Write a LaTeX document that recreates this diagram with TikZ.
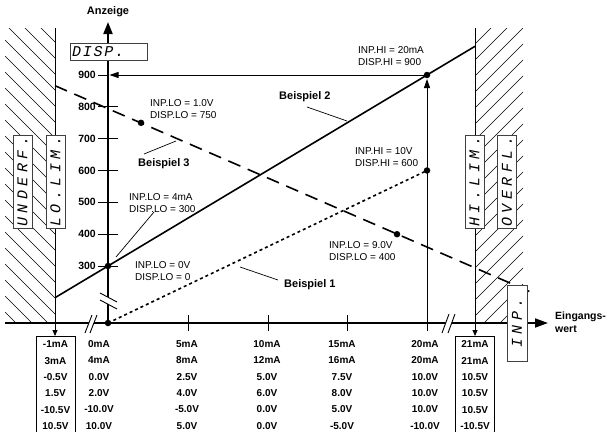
\documentclass[tikz,border=0pt]{standalone}
\usepackage{fontspec}
\setmainfont{Liberation Sans}
\newfontfamily\lcdh[LetterSpace=12]{Liberation Mono}
\newfontfamily\lcdv[LetterSpace=30]{Liberation Mono}
\usetikzlibrary{arrows.meta}
\begin{document}
\begin{tikzpicture}[x=1pt,y=-1pt,
  axis/.style={line width=1.8pt},
  lim/.style={line width=0.9pt},
  hatch/.style={line width=0.6pt},
  lead/.style={line width=0.7pt},
  brk/.style={line width=0.9pt},
  bspA/.style={line width=1.6pt},
  bspB/.style={line width=1.6pt, dash pattern=on 13pt off 8pt},
  bspC/.style={line width=1.6pt, dash pattern=on 3pt off 3pt},
  dot/.style={circle, fill, inner sep=0pt, minimum size=6.5pt},
  lbl/.style={font=\fontsize{10}{12}\selectfont, align=left, inner sep=0pt, anchor=west},
  bsp/.style={font=\bfseries\fontsize{11}{13}\selectfont, inner sep=0pt, anchor=west},
  ylab/.style={font=\bfseries\fontsize{10.5}{12}\selectfont, inner sep=0pt, anchor=east},
  col/.style={font=\bfseries\fontsize{10}{16.3}\selectfont, align=center, inner sep=0pt, anchor=north},
  colbox/.style={col, draw, line width=0.9pt, minimum width=39pt, inner ysep=4.5pt},
  lcdbox/.style={draw=black!75, fill=white, line width=0.7pt, inner sep=0pt},
  lcdvert/.style={lcdbox, rotate=90, minimum width=93pt, minimum height=19pt, font=\lcdv\itshape\fontsize{15}{15}\selectfont},
  tip/.style={-{Triangle[length=9pt,width=6pt]}},
  smalltip/.style={-{Triangle[length=6pt,width=5pt]}}
]
\useasboundingbox (0,0) rectangle (609,431);

% hatched limit regions
\begin{scope}
  \clip (5,28) rectangle (55,323);
  \foreach \c in {-40,-24,...,330} \draw[hatch] (5,\c) -- (55,\c+50);
\end{scope}
\begin{scope}
  \clip (475,28) rectangle (523,323);
  \foreach \c in {28,44,...,380} \draw[hatch] (475,\c) -- (523,\c-48);
\end{scope}

% key coordinates
\coordinate (O) at (108,323);
\coordinate (ytop) at (108,22);
\coordinate (xl) at (5,323);
\coordinate (xr) at (548,323);
\coordinate (limLt) at (55,28);
\coordinate (limLb) at (55,336);
\coordinate (limRt) at (475,28);
\coordinate (limRb) at (475,336);
\coordinate (y900) at (109.5,75);
\coordinate (x20) at (427,323);
\coordinate (x20up) at (427,79);
\coordinate (b2s) at (55,297.7);
\coordinate (b2e) at (475,46.3);
\coordinate (b3s) at (55,85.7);
\coordinate (b3e) at (530,291.7);

% limit lines
\draw[lim, smalltip] (limLt) -- (limLb);
\draw[lim, smalltip] (limRt) -- (limRb);

% LCD boxes in limit regions
\node[lcdvert] (underf) at (22.5,181.5) {UNDERF.};
\node[lcdvert] (lolim) at (55.5,181.5) {LO.LIM.};
\node[lcdvert] (hilim) at (474.5,181.5) {HI.LIM.};
\node[lcdvert] (overfl) at (507,181.5) {OVERFL.};

% axes
\draw[axis, -{Triangle[length=13pt,width=9pt]}] (xl) -- (xr);
\draw[axis, -{Triangle[length=12pt,width=9pt]}] (O) -- (ytop);

% x axis breaks
\fill[white] (85,333) -- (92,315) -- (97,315) -- (90,333) -- cycle;
\draw[brk] (85,333) -- (92,315) (90,333) -- (97,315);
\fill[white] (442,333) -- (449,314) -- (455,314) -- (448,333) -- cycle;
\draw[brk] (442,333) -- (449,314) (448,333) -- (455,314);
% y axis break
\fill[white] (100,293) -- (117,302) -- (117,309) -- (100,300) -- cycle;
\draw[brk] (100,293) -- (117,302) (100,300) -- (117,309);

% y ticks and labels
\draw[lim] (98,75) -- (108,75);
\foreach \yy in {106.8,138.7,170.5,202.3,234.2,266} \draw[lim] (98,\yy) -- (118,\yy);
\node[ylab] (l900) at (96,75) {900};
\node[ylab] (l800) at (96,106.8) {800};
\node[ylab] (l700) at (96,138.7) {700};
\node[ylab] (l600) at (96,170.5) {600};
\node[ylab] (l500) at (96,202.3) {500};
\node[ylab] (l400) at (96,234.2) {400};
\node[ylab] (l300) at (96,266) {300};

% x ticks
\foreach \xx in {188,268,347,427} \draw[lim] (\xx,315) -- (\xx,331);

% axis titles
\node[font=\bfseries\fontsize{11}{13}\selectfont, inner sep=0pt] (anz) at (108,12) {Anzeige};
\node[font=\bfseries\fontsize{10.5}{13}\selectfont, align=left, inner sep=0pt, anchor=west] (ein) at (555,322.5) {Eingangs-\\wert};

% DISP box
\node[lcdbox, minimum width=77pt, minimum height=17pt, text width=73pt, align=left,
      font=\lcdh\itshape\fontsize{15}{15}\selectfont] (disp) at (108.5,51.5) {DISP.};

% dots
\node[dot] (p300) at (108,266) {};
\node[dot] (p900) at (427,75) {};
\node[dot] (p750) at (141,122.8) {};
\node[dot] (p400) at (397,234.2) {};
\node[dot] (p600) at (427,170.5) {};
\node[dot] (o) at (O) {};

% example lines
\draw[bspA] (b2s) -- (p300.center) -- (p900.center) -- (b2e);
\draw[bspB] (b3s) -- (b3e);
\draw[bspC] (o.center) -- (p600.center);

% arrows for 20 mA -> 900
\draw[lim, tip] (x20) -- (x20up);
\draw[lim, tip] (p900.center) -- (y900);

% INP box on x axis
\node[lcdbox, rotate=90, minimum width=76pt, minimum height=20pt,
      font=\lcdv\itshape\fontsize{15}{15}\selectfont] (inp) at (517,323) {INP.};

% annotations
\node[lbl] (t20) at (358,56) {INP.HI = 20mA\\DISP.HI = 900};
\node[lbl] (t10v) at (150,109) {INP.LO = 1.0V\\DISP.LO = 750};
\node[lbl] (t4) at (129,203) {INP.LO = 4mA\\DISP.LO = 300};
\node[lbl] (t0) at (135,271.5) {INP.LO = 0V\\DISP.LO = 0};
\node[lbl] (thi10) at (355,157.5) {INP.HI = 10V\\DISP.HI = 600};
\node[lbl] (t9) at (329,251) {INP.LO = 9.0V\\DISP.LO = 400};

\node[bsp] (bsp2) at (279,97) {Beispiel 2};
\node[bsp] (bsp3) at (138,164) {Beispiel 3};
\node[bsp] (bsp1) at (284,285) {Beispiel 1};

% leader lines
\coordinate (ld2a) at (307,107); \coordinate (ld2b) at (347,121);
\coordinate (ld3a) at (144,154); \coordinate (ld3b) at (176,141);
\coordinate (ld4a) at (154,212); \coordinate (ld4b) at (116,257);
\coordinate (ld1a) at (240,267); \coordinate (ld1b) at (278,280);
\draw[lead] (ld2a) -- (ld2b);
\draw[lead] (ld3a) -- (ld3b);
\draw[lead] (ld4a) -- (ld4b);
\draw[lead] (ld1a) -- (ld1b);

% value table
\node[colbox] (cL) at (55.5,336) {-1mA\\3mA\\-0.5V\\1.5V\\-10.5V\\10.5V};
\node[col] (c0) at (99,340.5) {0mA\\4mA\\0.0V\\2.0V\\-10.0V\\10.0V};
\node[col] (c5) at (187,340.5) {5mA\\8mA\\2.5V\\4.0V\\-5.0V\\5.0V};
\node[col] (c10) at (267,340.5) {10mA\\12mA\\5.0V\\6.0V\\0.0V\\0.0V};
\node[col] (c15) at (342,340.5) {15mA\\16mA\\7.5V\\8.0V\\5.0V\\-5.0V};
\node[col] (c20) at (425,340.5) {20mA\\20mA\\10.0V\\10.0V\\10.0V\\-10.0V};
\node[colbox] (cR) at (475,336) {21mA\\21mA\\10.5V\\10.5V\\10.5V\\-10.5V};
\end{tikzpicture}
\end{document}
